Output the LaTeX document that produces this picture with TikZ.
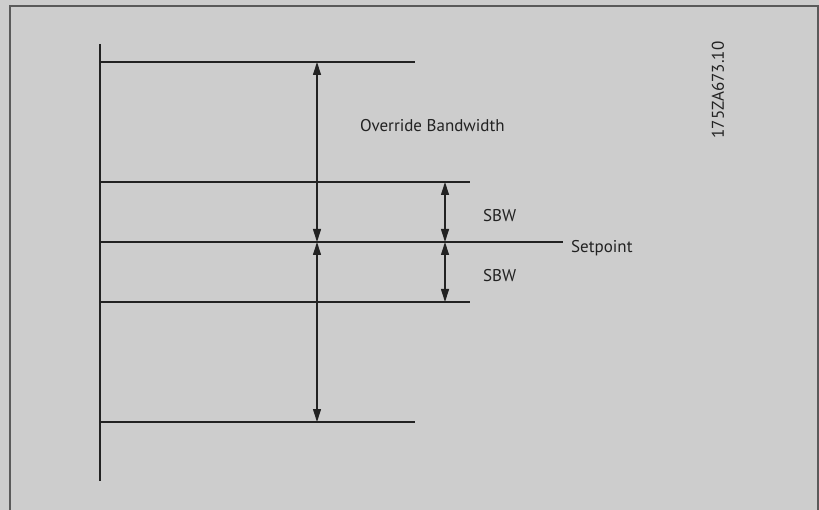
\documentclass[tikz,border=0pt]{standalone}
\usepackage{fontspec}
\setmainfont{PT Sans}
\usetikzlibrary{arrows.meta, positioning}
\definecolor{bgGray}{HTML}{CDCDCD}
\definecolor{frameGray}{HTML}{5A5A5A}
\definecolor{lineDark}{HTML}{222222}

\begin{document}
\begin{tikzpicture}[x=1pt, y=-1pt,
    level/.style={draw=lineDark, line width=1.1pt},
    span/.style={draw=lineDark, line width=1.1pt,
                 {Triangle[length=13pt,width=8pt]}-{Triangle[length=13pt,width=8pt]}},
    lbl/.style={font=\fontsize{17}{19}\selectfont, text=lineDark, inner sep=0pt},
  ]
    \fill[bgGray] (0,0) rectangle (819,510);
    \useasboundingbox (0,0) rectangle (819,510);
    % frame
    \draw[frameGray, line width=2pt] (10,511) -- (10,6) -- (818,6) -- (818,511);

    % axis
    \coordinate (axTop) at (100,44);
    \coordinate (axBot) at (100,481);
    \draw[level] (axTop) -- (axBot);

    % levels
    \coordinate (obTop) at (100,62);   \coordinate (obTopE) at (415,62);
    \coordinate (sbTop) at (100,182);  \coordinate (sbTopE) at (470,182);
    \coordinate (sp)    at (100,242);  \coordinate (spE)    at (563,242);
    \coordinate (sbBot) at (100,302);  \coordinate (sbBotE) at (470,302);
    \coordinate (obBot) at (100,422);  \coordinate (obBotE) at (415,422);
    \foreach \a/\b in {obTop/obTopE, sbTop/sbTopE, sp/spE, sbBot/sbBotE, obBot/obBotE}
      \draw[level] (\a) -- (\b);

    % spans
    \coordinate (o1) at (317,62);  \coordinate (o2) at (317,242);  \coordinate (o3) at (317,422);
    \coordinate (s1) at (445,182); \coordinate (s2) at (445,242);  \coordinate (s3) at (445,302);
    \draw[span] (o1) -- (o2);
    \draw[span] (o2) -- (o3);
    \draw[span] (s1) -- (s2);
    \draw[span] (s2) -- (s3);

    % labels
    \node[lbl, anchor=west] (override) at (360,126) {Override Bandwidth};
    \node[lbl, anchor=west] (sbwUp) at (483,216) {SBW};
    \node[lbl, anchor=west] (sbwDown) at (483,276) {SBW};
    \node[lbl, anchor=west] (setpoint) at (571,248) {Setpoint};
    \node[lbl, rotate=90, anchor=center] (code) at (718,90) {175ZA673.10};
  \end{tikzpicture}
\end{document}
